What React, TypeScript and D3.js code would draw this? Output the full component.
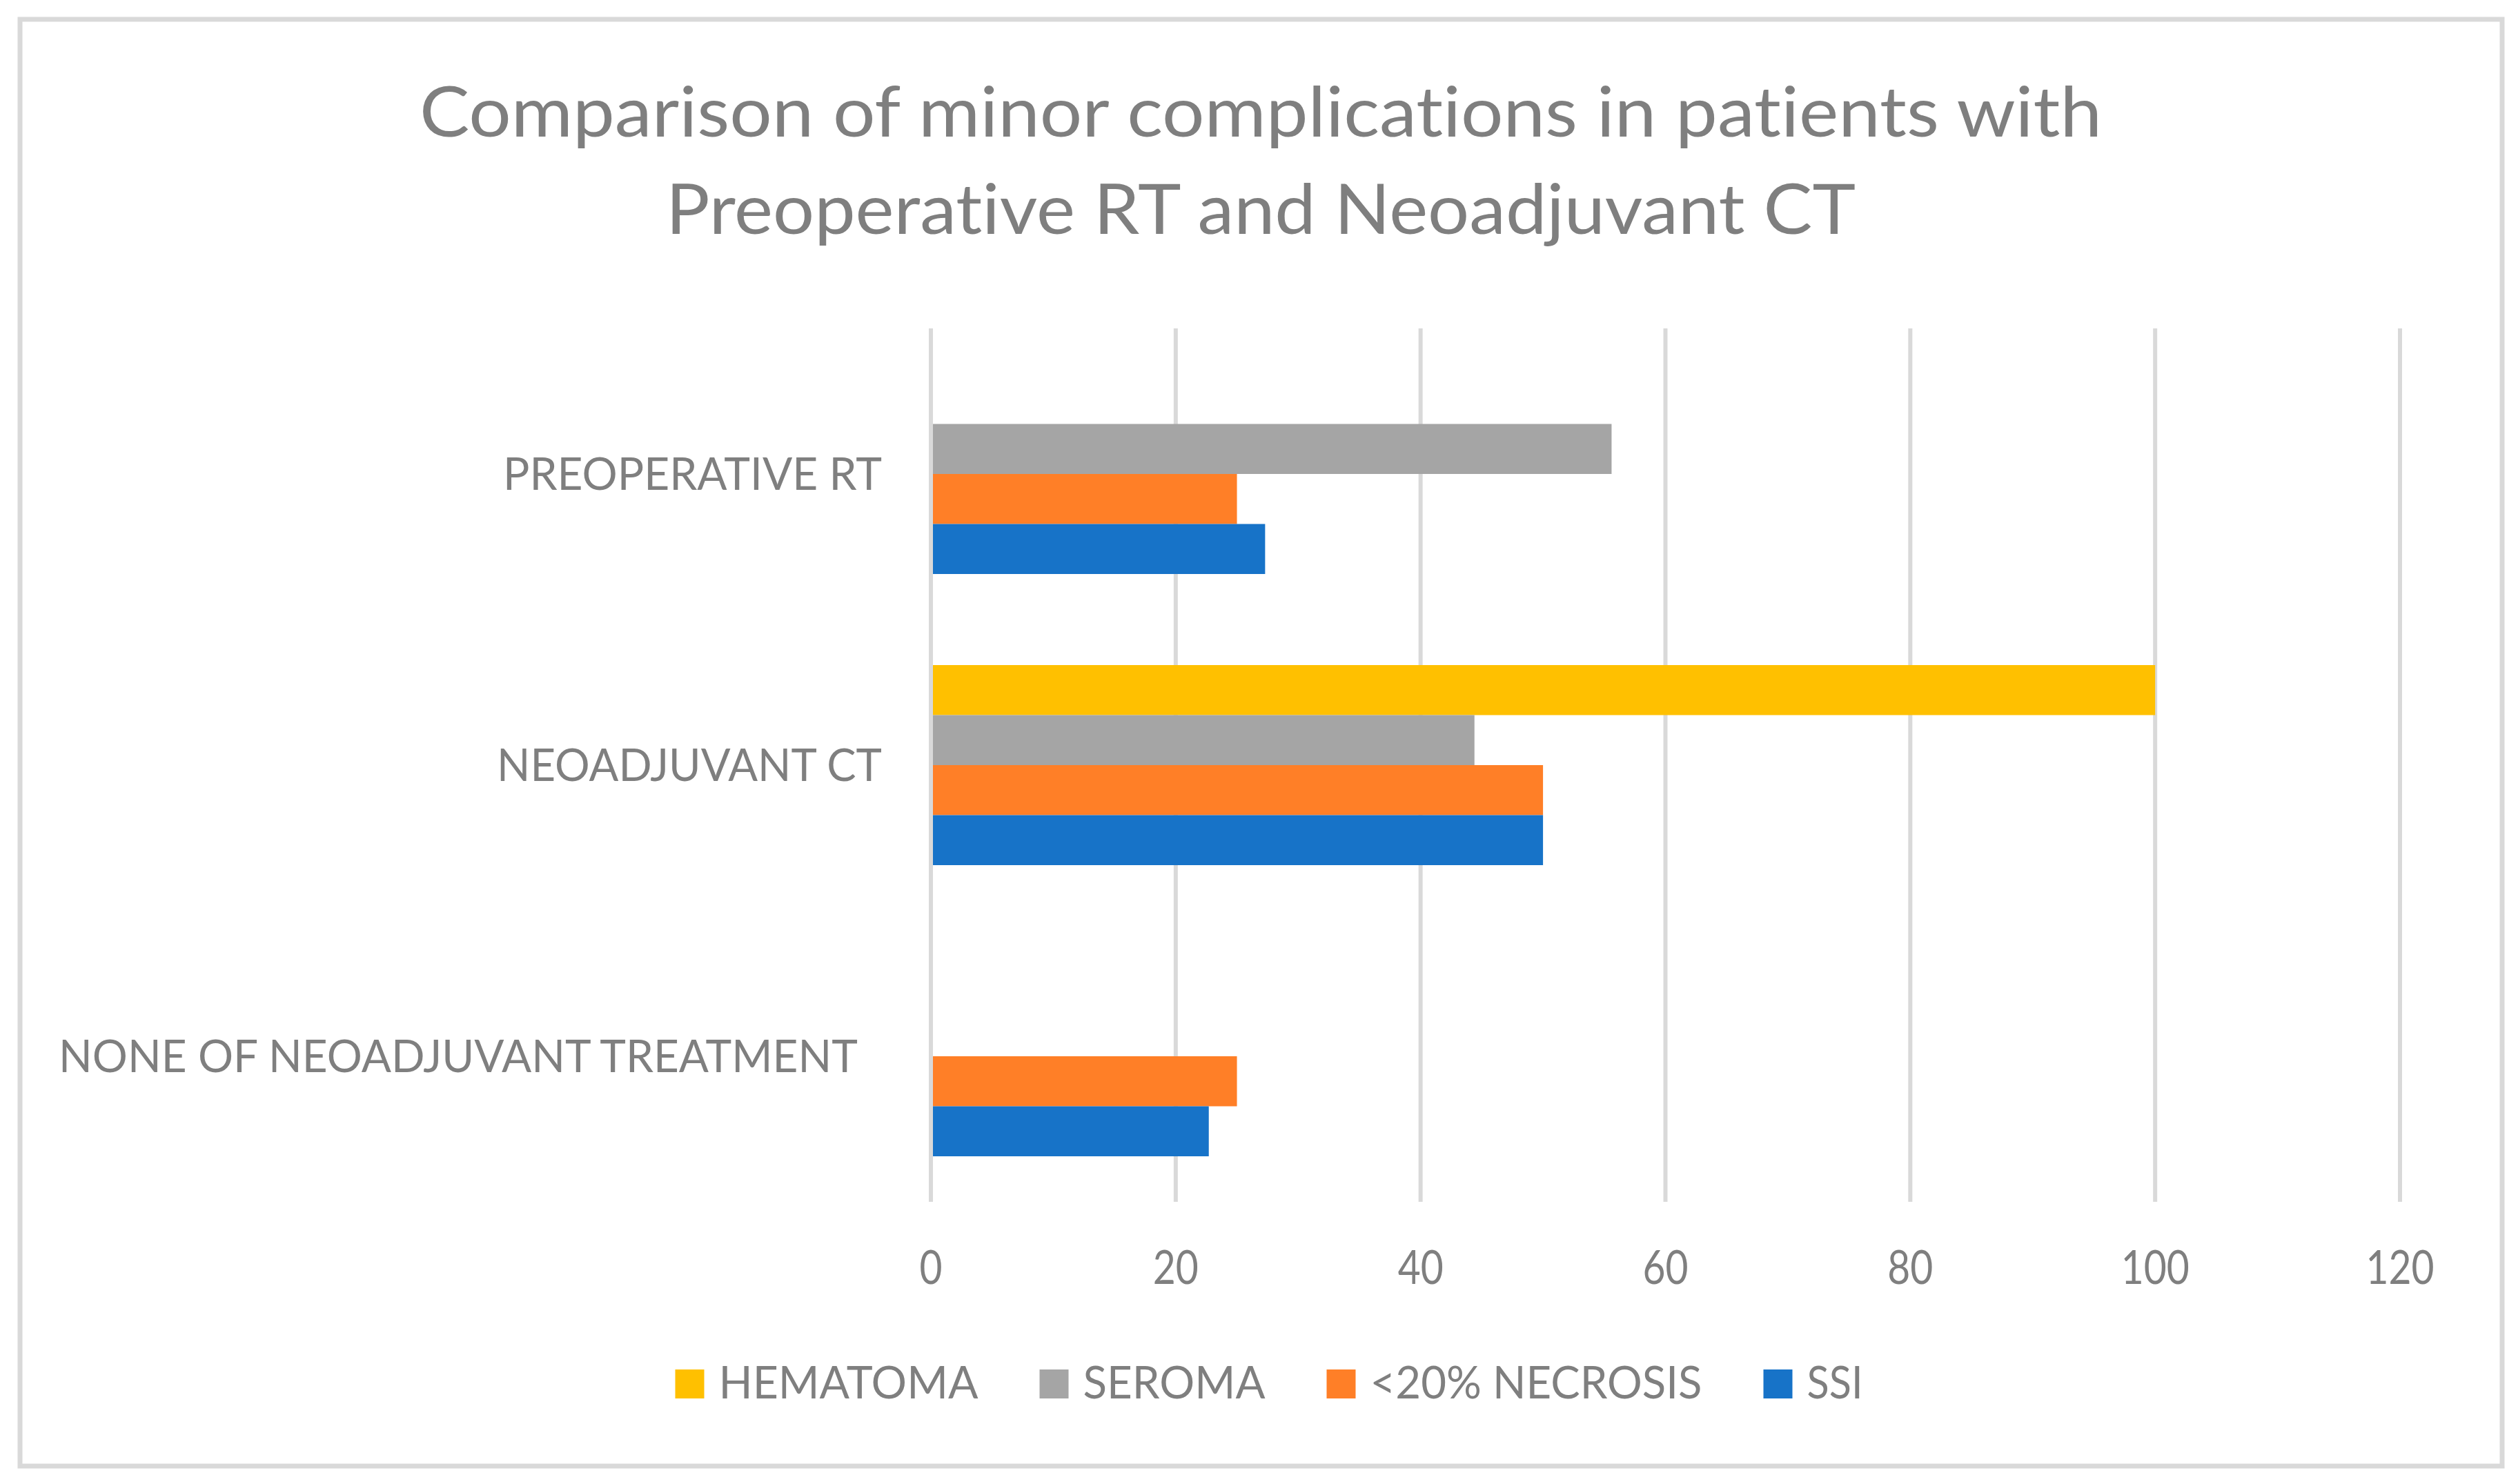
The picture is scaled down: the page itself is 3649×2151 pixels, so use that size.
import React from 'react';
import * as d3 from 'd3';

// categories, top to bottom
const categories = ['PREOPERATIVE RT', 'NEOADJUVANT CT', 'NONE OF NEOADJUVANT TREATMENT'];

// series, top to bottom inside each group (same order as the legend)
const seriesNames = ['HEMATOMA', 'SEROMA', '<20% NECROSIS', 'SSI'];
const hematoma = [0, 100, 0];
const seroma = [55.6, 44.4, 0];
const necrosis = [25, 50, 25];
const ssi = [27.3, 50, 22.7];
const seriesValues = [hematoma, seroma, necrosis, ssi];

const xTicks = [0, 20, 40, 60, 80, 100, 120];
const titleLines = ['Comparison of minor complications in patients with', 'Preoperative RT and Neoadjuvant CT'];

const colors = ['#FFC000', '#A5A5A5', '#FF7F27', '#1773C8'];

const W = 3649;
const H = 2151;
const textColor = '#7F7F7F';
const gridColor = '#D9D9D9';
const font = 'Lato, "Open Sans", sans-serif';

// measured text widths so the narrow Calibri-like look is kept
const titleWidths = [2438, 1724];
const catWidths = [549, 558, 1158];
const catInset = [0, 0, 35];
const legendWidths = [376, 264, 481, 81];

const noLig: React.CSSProperties = { fontVariantLigatures: 'none', fontFeatureSettings: '"liga" 0, "clig" 0' };

const App: React.FC = () => {
  const plot = { left: 1349, right: 3478, top: 476, bottom: 1742 };

  const x = d3.scaleLinear().domain([0, 120]).range([plot.left, plot.right]);

  const y = d3.scaleBand<string>()
    .domain(categories)
    .range([plot.top, plot.bottom])
    .paddingInner(0.3128)
    .paddingOuter(0.1564);

  const ySub = d3.scaleBand<string>()
    .domain(seriesNames)
    .range([0, y.bandwidth()]);

  // legend layout
  const marker = 42;
  const markerGap = 21;
  const entryGap = 89;
  const legendTotal = d3.sum(legendWidths) + seriesNames.length * (marker + markerGap) + (seriesNames.length - 1) * entryGap;
  let lx = 1839 - legendTotal / 2;
  const legendPos = seriesNames.map((_, i) => {
    const pos = lx;
    lx += marker + markerGap + legendWidths[i] + entryGap;
    return pos;
  });

  return (
    <svg width={W} height={H} style={{ position: 'absolute', left: 0, top: 0, background: '#fff' }}>
      <rect x={0} y={0} width={W} height={H} fill="#fff" />
      <rect x={29} y={28} width={3597} height={2097} fill="#fff" stroke={gridColor} strokeWidth={7} />

      {/* title */}
      {titleLines.map((t, i) => (
        <text key={t} x={1827} y={198 + i * 141} textAnchor="middle" fill={textColor} style={noLig}
          fontFamily={font} fontSize={101} textLength={titleWidths[i]} lengthAdjust="spacingAndGlyphs">
          {t}
        </text>
      ))}

      {/* gridlines */}
      {xTicks.map(t => (
        <line key={t} x1={x(t)} x2={x(t)} y1={plot.top} y2={plot.bottom} stroke={gridColor} strokeWidth={6} />
      ))}

      {/* bars */}
      {categories.map((c, ci) => (
        <g key={c} transform={`translate(0,${y(c)})`}>
          {seriesNames.map((s, si) => {
            const v = seriesValues[si][ci];
            if (!v) return null;
            return (
              <rect key={s} x={x(0) + 3} y={ySub(s)} width={x(v) - x(0) - 3} height={ySub.bandwidth()} fill={colors[si]} />
            );
          })}
        </g>
      ))}

      {/* category labels */}
      {categories.map((c, i) => (
        <text key={c} x={1278 - catInset[i]} y={(y(c) || 0) + y.bandwidth() / 2 + 23} textAnchor="end" style={noLig}
          fill={textColor} fontFamily={font} fontSize={66} textLength={catWidths[i]} lengthAdjust="spacingAndGlyphs">
          {c}
        </text>
      ))}

      {/* x tick labels */}
      {xTicks.map(t => (
        <text key={t} x={x(t)} y={1861} textAnchor="middle" fill={textColor} fontFamily={font} fontSize={67}
          transform={`translate(${x(t)},0) scale(0.85,1) translate(${-x(t)},0)`}>
          {t}
        </text>
      ))}

      {/* legend */}
      {seriesNames.map((s, i) => (
        <g key={s}>
          <rect x={legendPos[i]} y={1985} width={marker} height={marker} fill={colors[i]} />
          <text x={legendPos[i] + marker + markerGap} y={2027} fill={textColor} fontFamily={font} fontSize={66}
            style={noLig} textLength={legendWidths[i]} lengthAdjust="spacingAndGlyphs">
            {s}
          </text>
        </g>
      ))}
    </svg>
  );
};

export default App;
